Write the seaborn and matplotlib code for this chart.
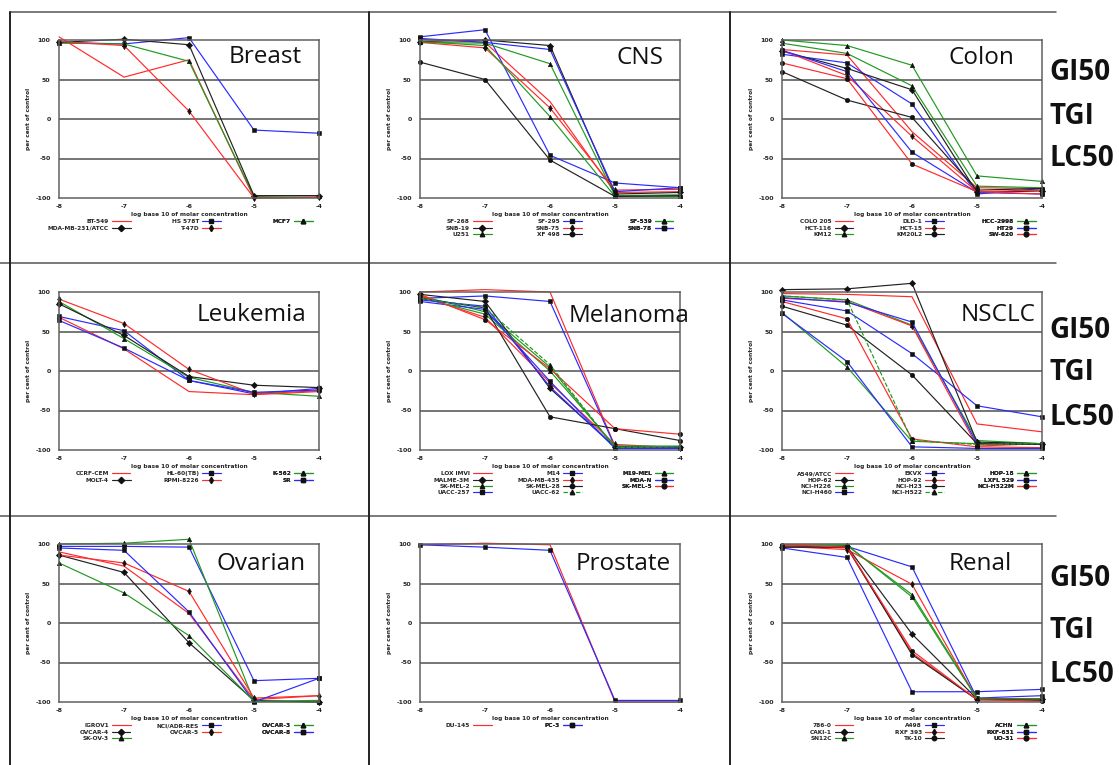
import matplotlib
matplotlib.use("Agg")
import matplotlib.pyplot as plt
import seaborn as sns
import pandas as pd
from matplotlib.lines import Line2D

# ---------------- data ----------------
conc = [-8, -7, -6, -5, -4]

breast_cells = ["BT-549", "HS 578T", "MCF7", "MDA-MB-231/ATCC", "T-47D"]
breast_values = [
    [104, 53, 75, -100, -99],
    [97, 95, 103, -14, -18],
    [96, 95, 73, -98, -97],
    [97, 101, 94, -97, -97],
    [98, 93, 10, -100, -99],
]

cns_cells = ["SF-268", "SF-295", "SF-539", "SNB-19", "SNB-75", "SNB-78", "U251", "XF 498"]
cns_values = [
    [101, 97, 22, -93, -92],
    [104, 113, -46, -81, -87],
    [97, 96, 70, -97, -96],
    [98, 100, 93, -95, -93],
    [97, 90, 14, -90, -89],
    [102, 97, 88, -92, -87],
    [98, 93, 3, -98, -98],
    [72, 50, -52, -98, -97],
]

colon_cells = ["COLO 205", "DLD-1", "HCC-2998", "HCT-116", "HCT-15", "HT29", "KM12", "KM20L2", "SW-620"]
colon_values = [
    [88, 81, -16, -87, -88],
    [82, 71, 19, -95, -88],
    [100, 93, 68, -72, -79],
    [86, 64, 37, -93, -91],
    [87, 55, -22, -92, -90],
    [87, 60, -42, -93, -95],
    [96, 83, 42, -85, -87],
    [60, 24, 2, -90, -88],
    [71, 51, -57, -92, -95],
]

leukemia_cells = ["CCRF-CEM", "HL-60(TB)", "K-562", "MOLT-4", "RPMI-8226", "SR"]
leukemia_values = [
    [68, 28, -26, -30, -26],
    [69, 51, -12, -29, -22],
    [88, 41, -8, -27, -32],
    [85, 45, -7, -18, -21],
    [91, 60, 2, -29, -25],
    [64, 29, -12, -27, -24],
]

melanoma_cells = ["LOX IMVI", "M14", "M19-MEL", "MALME-3M", "MDA-MB-435", "MDA-N",
                  "SK-MEL-2", "SK-MEL-28", "SK-MEL-5", "UACC-257", "UACC-62"]
melanoma_values = [
    [100, 103, 100, -95, -97],
    [92, 95, 88, -96, -98],
    [95, 75, 5, -97, -96],
    [97, 88, -22, -96, -96],
    [95, 68, -15, -93, -97],
    [88, 78, -13, -98, -98],
    [93, 72, 0, -95, -95],
    [92, 80, -58, -73, -88],
    [97, 65, 3, -73, -80],
    [90, 82, -20, -97, -97],
    [92, 80, 8, -97, -96],
]

nsclc_cells = ["A549/ATCC", "EKVX", "HOP-18", "HOP-62", "HOP-92", "LXFL 529",
               "NCI-H226", "NCI-H23", "NCI-H322M", "NCI-H460", "NCI-H522"]
nsclc_values = [
    [98, 97, 94, -67, -77],
    [90, 76, 22, -44, -58],
    [95, 90, 58, -88, -92],
    [103, 104, 111, -90, -92],
    [92, 88, 57, -95, -92],
    [93, 87, 62, -92, -92],
    [74, 5, -89, -92, -92],
    [82, 58, -5, -92, -93],
    [88, 66, -86, -96, -97],
    [73, 12, -96, -98, -98],
    [95, 90, -88, -93, -92],
]

ovarian_cells = ["IGROV1", "NCI/ADR-RES", "OVCAR-3", "OVCAR-4", "OVCAR-5", "OVCAR-8", "SK-OV-3"]
ovarian_values = [
    [90, 72, 12, -97, -92],
    [97, 97, 96, -73, -70],
    [100, 101, 106, -99, -100],
    [86, 64, -25, -98, -100],
    [86, 76, 40, -95, -92],
    [95, 92, 14, -100, -70],
    [76, 38, -16, -99, -98],
]

prostate_cells = ["DU-145", "PC-3"]
prostate_values = [
    [99, 101, 99, -100, -100],
    [99, 96, 92, -98, -98],
]

renal_cells = ["786-0", "A498", "ACHN", "CAKI-1", "RXF 393", "RXF-631", "SN12C", "TK-10", "UO-31"]
renal_values = [
    [98, 95, -38, -97, -96],
    [97, 97, 71, -95, -92],
    [97, 98, 36, -95, -97],
    [96, 97, -14, -96, -96],
    [97, 93, 49, -97, -96],
    [95, 83, -87, -87, -84],
    [99, 99, 33, -96, -96],
    [96, 96, -40, -97, -98],
    [99, 96, -35, -97, -99],
]

panel_titles = ["Breast", "CNS", "Colon", "Leukemia", "Melanoma", "NSCLC", "Ovarian", "Prostate", "Renal"]
panel_cells = [breast_cells, cns_cells, colon_cells, leukemia_cells, melanoma_cells,
               nsclc_cells, ovarian_cells, prostate_cells, renal_cells]
panel_values = [breast_values, cns_values, colon_values, leukemia_values, melanoma_values,
                nsclc_values, ovarian_values, prostate_values, renal_values]
side_labels = ["GI50", "TGI", "LC50"]

y_ticks = [-100, -50, 0, 50, 100]
y_minor = [-75, -25, 25, 75]
x_label = "log base 10 of molar concentration"
y_label = "per cent of control"

# ---------------- style ----------------
sns.set_theme(style="white")
plt.rcParams["font.family"] = ["DejaVu Sans"]

series_colors = ["#ff2a2a", "#2a2aff", "#1f9a1f", "#222222"]
series_markers = [None, "s", "^", "D", "d", "s", "^", "o", "o", "s", "^"]
series_dash = ["-"] * 10 + ["--"]

W, H = 1119, 765
fig = plt.figure(figsize=(W / 100, H / 100), dpi=100)
fig.patch.set_facecolor("white")

lefts = [59, 420, 782]
tops = [40, 292, 544]
aw, ah = 260, 158

title_pos = [(229, 57), (616, 58), (949, 58),
             (197, 315), (569, 316), (961, 315),
             (216, 564), (576, 564), (949, 564)]
side_pos = [[72, 116, 159], [331, 372, 418], [578, 630, 675]]

leg_x = [0.275, 0.622, 0.975]

for k in range(9):
    r, c = divmod(k, 3)
    ax = fig.add_axes([lefts[c] / W, 1 - (tops[r] + ah) / H, aw / W, ah / H])
    cells = panel_cells[k]
    vals = panel_values[k]
    handles = []
    for i, (name, v) in enumerate(zip(cells, vals)):
        df = pd.DataFrame({"conc": conc, "pct": v})
        col = series_colors[i % 4]
        mk = series_markers[i % len(series_markers)]
        sns.lineplot(data=df, x="conc", y="pct", ax=ax, color=col, lw=0.85,
                     linestyle=series_dash[i % len(series_dash)],
                     marker=mk, markersize=3.2, markerfacecolor="#111111",
                     markeredgecolor="#111111", markeredgewidth=0.4,
                     clip_on=False, legend=False, errorbar=None)
        handles.append(Line2D([], [], color=col, lw=0.85,
                              linestyle=series_dash[i % len(series_dash)],
                              marker=mk, markersize=3.2, markerfacecolor="#111111",
                              markeredgecolor="#111111", label=name))
    ax.set_xlim(-8, -4)
    ax.set_ylim(-100, 100)
    ax.set_xticks(conc)
    ax.set_xticklabels([str(x) for x in conc], fontsize=4.5, fontweight="bold")
    ax.set_yticks(y_ticks)
    ax.set_yticklabels([str(y) for y in y_ticks], fontsize=4.5, fontweight="bold")
    ax.set_yticks(y_minor, minor=True)
    ax.tick_params(axis="y", which="major", length=0, pad=6)
    ax.tick_params(axis="y", which="minor", direction="inout", length=7, width=1, color="#333333")
    ax.tick_params(axis="x", which="major", direction="inout", length=6, width=1, color="#333333", pad=1.5)
    ax.grid(False)
    for gy in [50, 0, -50]:
        ax.axhline(gy, color="#505050", lw=1.1, zorder=0)
    for s in ax.spines.values():
        s.set_color("#606060")
        s.set_linewidth(1.1)
    ax.set_xlabel(x_label, fontsize=4.2, fontweight="bold", labelpad=2)
    ax.set_ylabel(y_label, fontsize=4.2, fontweight="bold", labelpad=3)

    # legend in three columns (row-major order)
    for cc in range(3):
        hs = handles[cc::3]
        if not hs:
            continue
        lg = ax.legend(handles=hs, loc="upper right", bbox_to_anchor=(leg_x[cc], -0.135),
                       frameon=False, markerfirst=False, handlelength=3.2,
                       handletextpad=0.5, labelspacing=0.2, borderpad=0, borderaxespad=0,
                       prop={"weight": "bold", "size": 4.2})
        ax.add_artist(lg)

    tx, ty = title_pos[k]
    fig.text(tx / W, 1 - ty / H, panel_titles[k], fontsize=17.5, family="Open Sans",
             color="#111111", va="center", ha="left")

    if c == 2:
        for j, lab in enumerate(side_labels):
            fig.text(1049 / W, 1 - side_pos[r][j] / H, lab, fontsize=20, family="Open Sans",
                     fontweight="bold", color="#111111", va="center", ha="left")

# table-like separator lines
def hline(y, x0, x1, color="#555555", lw=1.1):
    fig.add_artist(Line2D([x0 / W, x1 / W], [1 - y / H, 1 - y / H], transform=fig.transFigure,
                          color=color, lw=lw))

def vline(x, y0, y1, color="#222222", lw=1.4):
    fig.add_artist(Line2D([x / W, x / W], [1 - y0 / H, 1 - y1 / H], transform=fig.transFigure,
                          color=color, lw=lw))

hline(12, 10, 1056)
hline(263, 0, 1056)
hline(516, 0, 1056)
vline(10, 12, 765)
vline(369, 12, 765)
vline(730, 12, 765)

fig.savefig("out.png", dpi=100, facecolor="white")
